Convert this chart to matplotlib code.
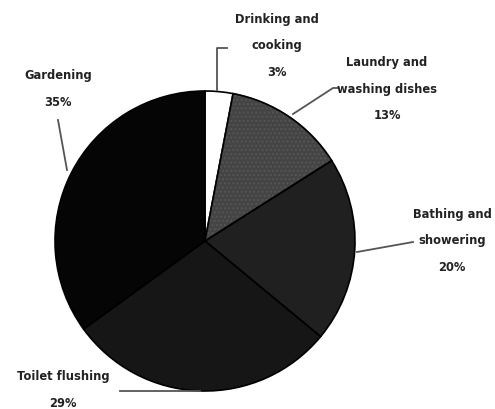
import matplotlib
matplotlib.use("Agg")
import matplotlib.pyplot as plt
from matplotlib.patches import Wedge

# household water use, clockwise from the top
uses = ["Drinking and\ncooking", "Laundry and\nwashing dishes", "Bathing and\nshowering",
        "Toilet flushing", "Gardening"]
shares = [3, 13, 20, 29, 35]
colors = ["#ffffff", "#444444", "#202020", "#161616", "#050505"]

W, H = 495, 410
fig = plt.figure(figsize=(W / 100, H / 100), dpi=100)
ax = fig.add_axes([0, 0, 1, 1])

cx, cy, r = 205, H - 242, 150
wedges, _ = ax.pie(shares, colors=colors, startangle=90, counterclock=False,
                   center=(cx, cy), radius=r, frame=True,
                   wedgeprops=dict(edgecolor="black", linewidth=1.2))
ax.set_xlim(0, W)
ax.set_ylim(0, H)
ax.set_aspect("equal")
ax.axis("off")

# speckled fill on the laundry slice, then its black outline on top
lw = wedges[1]
lw.set_hatch("....")
lw.set_edgecolor("#555555")
ax.add_patch(Wedge(lw.center, lw.r, lw.theta1, lw.theta2, fill=False,
                   edgecolor="black", linewidth=1.2, zorder=lw.get_zorder() + 0.1))

def y(p):
    return H - p

font = dict(fontsize=8.3, fontweight="bold", color="#222222", ha="center", va="center",
            linespacing=2.35)
# label positions and leader lines, in pixel coordinates
label_xy = [(277, 46), (387, 89), (452, 241), (63, 390), (58, 89)]
leaders = [
    [(217, 91), (217, 49), (227, 49)],
    [(293, 115), (333, 89), (338, 89)],
    [(357, 253), (413, 243)],
    [(200, 392), (120, 392)],
    [(67, 171), (58, 121)],
]
for name, v, (lx, ly), pts in zip(uses, shares, label_xy, leaders):
    ax.text(lx, y(ly), f"{name}\n{v}%", **font)
    ax.plot([p[0] for p in pts], [y(p[1]) for p in pts], color="#555555", lw=1.3)

fig.savefig("out.png", dpi=100, facecolor="white")
